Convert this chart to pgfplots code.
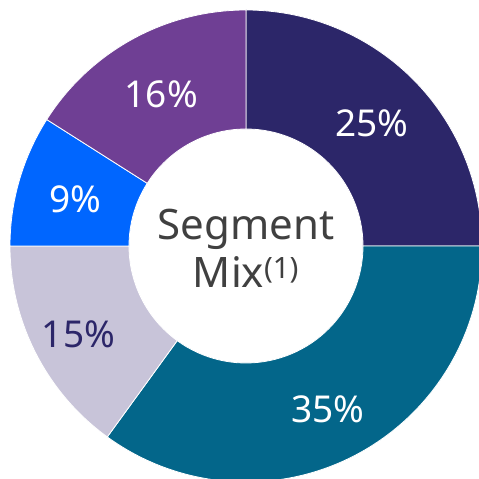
\documentclass[border=0pt]{standalone}
\usepackage{fontspec}
\setmainfont{Noto Sans}
\usepackage{pgfplots}
\pgfplotsset{compat=1.18}

\definecolor{segA}{HTML}{2C2669}
\definecolor{segB}{HTML}{03668A}
\definecolor{segC}{HTML}{C8C4D9}
\definecolor{segD}{HTML}{0066FF}
\definecolor{segE}{HTML}{6F3F94}
\definecolor{centergray}{HTML}{404040}

\begin{document}
\begin{tikzpicture}
\useasboundingbox (0,0) rectangle (479pt,479pt);
\begin{axis}[x=1pt, y=1pt, anchor=south west, at={(0,0)},
    xmin=-246, xmax=233, ymin=-233, ymax=246,
    hide axis, clip=true]
\pgfplotsextra{
  \begin{scope}[shift={(axis cs:0,0)}]
  % share (percent) / fill / label colour / label radius, clockwise from 12 o'clock
  \foreach \v/\c/\t/\r [remember=\e as \s (initially 90),
                     evaluate=\v as \e using \s-3.6*\v,
                     evaluate=\v as \m using \s-1.8*\v]
      in {25/segA/white/178, 35/segB/white/180, 15/segC/segA/188,
          9/segD/white/178, 16/segE/white/176}{
    \fill[\c, draw=white, line width=0.8pt]
      (\s:236pt) arc[start angle=\s, end angle=\e, radius=236pt]
      -- (\e:117pt) arc[start angle=\e, end angle=\s, radius=117pt] -- cycle;
    \node[text=\t, font=\fontsize{37}{40}\selectfont, yshift=-3pt]
      at (\m:\r pt) {\v\%};
  }
  \node[align=center, text=centergray, font=\fontsize{42}{48}\selectfont]
    at (0pt,-2pt) {Segment\\Mix\textsuperscript{(1)}};
  \end{scope}
}
\end{axis}
\end{tikzpicture}
\end{document}
